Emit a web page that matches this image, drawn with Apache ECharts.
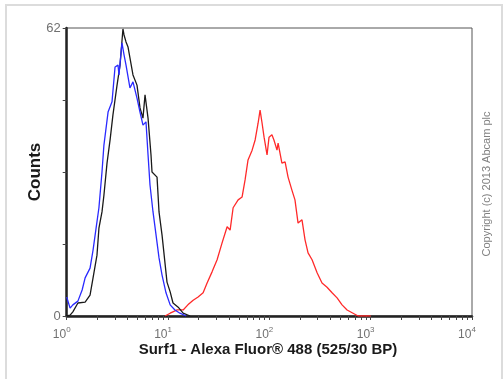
<!DOCTYPE html>
<html>
<head>
<meta charset="utf-8">
<script src="https://cdn.jsdelivr.net/npm/echarts@6/dist/echarts.min.js"></script>
<style>
html,body{margin:0;padding:0;background:#fff;}
#c{width:504px;height:379px;}
</style>
</head>
<body>
<div id="c"></div>
<script>
// Fluorescence intensity (x) and counts (y)
var blackX = [1.0,1.08,1.15,1.29,1.52,1.70,1.82,1.99,2.08,2.23,2.33,2.50,2.68,2.86,3.14,3.36,3.59,3.68,3.85,4.03,4.21,4.51,4.94,5.29,5.66,5.93,6.35,6.79,6.95,7.79,8.15,8.73,9.77,10.5,11.2,12.6,14.1,16.5];
var blackY = [0,0.2,0.9,2.8,3.0,4.5,8.2,13.1,18.9,22.4,26.0,32.9,37.9,43.3,49.7,54.0,61.8,60.5,59.0,57.9,57.7,51.9,49.7,44.8,42.6,47.6,42.6,34.7,31.0,29.9,22.4,17.4,7.3,5.2,2.8,1.9,0.6,0];

var blueX = [1.0,1.08,1.15,1.29,1.42,1.52,1.70,1.82,1.95,2.08,2.23,2.33,2.56,2.80,3.00,3.21,3.28,3.51,3.68,3.85,4.21,4.51,4.94,5.29,5.66,6.06,6.35,6.64,7.11,7.62,8.15,8.73,9.55,10.5,11.7,13.1,15.1];
var blueY = [4.1,1.7,2.4,3.2,5.6,8.2,10.3,14.2,18.9,23.3,31.0,36.8,43.9,46.1,53.6,54.0,51.9,58.8,56.2,54.0,49.1,50.4,46.9,43.9,41.1,41.8,34.7,28.2,22.4,17.4,12.5,8.8,5.0,2.4,1.3,0.6,0];

var redX = [9.34,10.5,12.3,14.1,15.7,17.7,19.8,22.2,24.3,27.2,30.5,34.1,38.3,41.0,43.9,49.2,53.8,57.6,61.6,67.6,72.4,77.4,81.0,84.8,88.7,94.9,99.3,106,111,119,122,133,143,153,167,179,192,210,225,241,264,296,331,371,416,466,522,585,670,751,1000];
var redY = [0,0.6,1.3,1.3,2.4,3.4,4.1,5.0,7.1,9.5,12.1,15.7,19.2,18.5,23.3,25.0,25.6,29.3,33.6,35.7,37.9,41.5,44.3,41.5,38.5,34.7,38.5,39.0,37.9,35.7,37.2,32.9,33.2,29.9,27.1,25.0,20.0,20.7,16.4,13.6,12.1,9.3,7.1,6.2,5.0,3.9,2.4,1.3,0.6,0,0];

var xMajorTicks = [1,10,100,1000,10000];
var xMinorTicks = [1,2,3,4,5,6,7,8,9,10,20,30,40,50,60,70,80,90,100,200,300,400,500,600,700,800,900,1000,2000,3000,4000,5000,6000,7000,8000,9000,10000];
var yLabels = [0,62];

function pairs(xs, ys){ return xs.map(function(x,i){ return [x, ys[i]]; }); }

var FONT = '"Liberation Sans", Arial, sans-serif';
var chart = echarts.init(document.getElementById('c'), null, {renderer:'canvas'});
chart.setOption({
  backgroundColor:'#ffffff',
  animation:false,
  grid:{left:66.7, right:32, top:28, bottom:63, show:true, borderColor:'#555', borderWidth:1, backgroundColor:'transparent'},
  xAxis:{
    type:'log', logBase:10, min:1, max:10000,
    axisLine:{show:true, onZero:false, lineStyle:{color:'#222', width:2.5}},
    axisTick:{show:true, customValues:xMinorTicks, length:4, inside:false, lineStyle:{color:'#444', width:1}},
    axisLabel:{
      customValues:xMajorTicks, margin:10, color:'#707070', fontFamily:FONT,
      formatter:function(v){ var e = Math.round(Math.log10(v)); return '{b|10}{s|' + e + '}'; },
      rich:{ b:{fontSize:12, color:'#707070', fontFamily:FONT, padding:[0,0,0,0]},
             s:{fontSize:8, color:'#707070', fontFamily:FONT, padding:[0,4,9,0]} },
      padding:[0,6,0,0]
    },
    splitLine:{show:false}, minorTick:{show:false}
  },
  yAxis:{
    type:'value', min:0, max:62, interval:15.5,
    axisLine:{show:true, lineStyle:{color:'#222', width:2.5}},
    axisTick:{show:true, length:4, inside:false, lineStyle:{color:'#444', width:1}},
    axisLabel:{color:'#707070', fontSize:13, fontFamily:FONT, margin:6,
      formatter:function(v){ return yLabels.indexOf(Math.round(v*10)/10) >= 0 ? String(v) : ''; }},
    splitLine:{show:false}
  },
  series:[
    {type:'line', data:pairs(redX, redY), showSymbol:false, lineStyle:{color:'#ff2a2a', width:1.3}, itemStyle:{color:'#ff2a2a'}, z:3},
    {type:'line', data:pairs(blackX, blackY), showSymbol:false, lineStyle:{color:'#1a1a1a', width:1.3}, itemStyle:{color:'#1a1a1a'}, z:4},
    {type:'line', data:pairs(blueX, blueY), showSymbol:false, lineStyle:{color:'#2a2aff', width:1.3}, itemStyle:{color:'#2a2aff'}, z:5}
  ],
  graphic:[
    {type:'rect', shape:{x:6, y:5, width:496, height:390}, style:{fill:'none', stroke:'#dcdcdc', lineWidth:2}, silent:true},
    {type:'text', x:35, y:172, rotation:Math.PI/2, style:{text:'Counts', font:'bold 17px ' + FONT, fill:'#1a1a1a', textAlign:'center', textVerticalAlign:'middle'}},
    {type:'text', x:268, y:350, style:{text:'Surf1 - Alexa Fluor\u00ae 488 (525/30 BP)', font:'bold 15px ' + FONT, fill:'#1a1a1a', textAlign:'center', textVerticalAlign:'middle'}},
    {type:'text', x:487, y:184, rotation:Math.PI/2, style:{text:'Copyright (c) 2013 Abcam plc', font:'11px ' + FONT, fill:'#808080', textAlign:'center', textVerticalAlign:'middle'}}
  ]
});
</script>
</body>
</html>
